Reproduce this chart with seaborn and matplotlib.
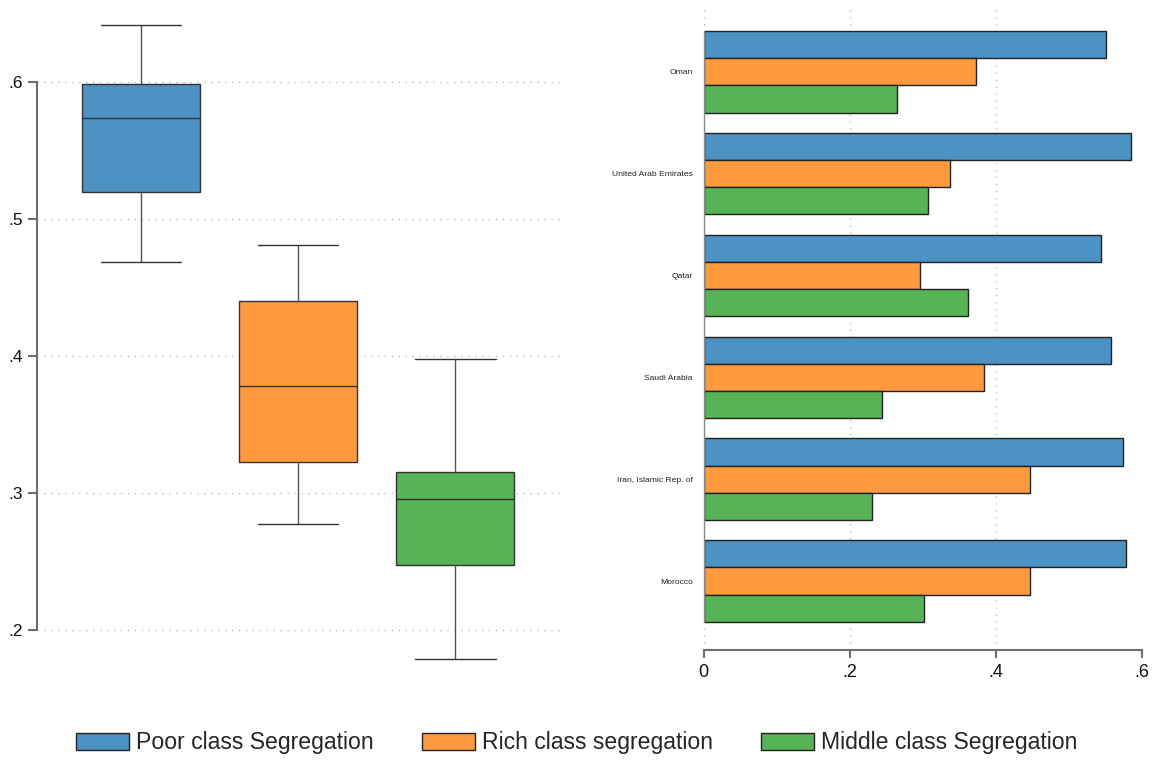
import numpy as np
import pandas as pd
import matplotlib
matplotlib.use("Agg")
import matplotlib.pyplot as plt
from matplotlib.patches import Patch
import seaborn as sns

# Series names and fill colours
series = ["Poor class Segregation", "Rich class segregation", "Middle class Segregation"]
colors = ["#4c92c3", "#ff993e", "#56b356"]

# Five-number summaries (min, Q1, median, Q3, max) for each segregation index
poor_box = [0.4686, 0.5197, 0.5737, 0.5985, 0.6416]
rich_box = [0.2774, 0.3226, 0.3780, 0.4400, 0.4810]
middle_box = [0.1788, 0.2474, 0.2956, 0.3153, 0.3978]

# Country-level segregation values
countries = ["Oman", "United Arab Emirates", "Qatar", "Saudi Arabia",
             "Iran, Islamic Rep. of", "Morocco"]
poor = [0.551, 0.584, 0.544, 0.557, 0.574, 0.578]
rich = [0.373, 0.337, 0.296, 0.383, 0.447, 0.446]
middle = [0.265, 0.307, 0.362, 0.244, 0.230, 0.302]

left_ticks = [0.2, 0.3, 0.4, 0.5, 0.6]
left_labels = [".2", ".3", ".4", ".5", ".6"]
bottom_ticks = [0.0, 0.2, 0.4, 0.6]
bottom_labels = ["0", ".2", ".4", ".6"]

sns.set_theme(style="white")
plt.rcParams["font.family"] = ["Liberation Sans", "DejaVu Sans"]

box_df = pd.DataFrame({
    "group": np.repeat(series, 5),
    "value": np.concatenate([poor_box, rich_box, middle_box]),
})
bar_df = pd.DataFrame({
    "country": countries * 3,
    "series": np.repeat(series, len(countries)),
    "value": poor + rich + middle,
})

W, H = 1156, 760
fig = plt.figure(figsize=(W / 100, H / 100), dpi=100)
ax1 = fig.add_axes([37 / W, 1 - 671 / H, 523 / W, 657.5 / H])
ax2 = fig.add_axes([703.5 / W, 1 - 650 / H, 438.8 / W, 645 / H])

grid_kw = dict(linestyle=(0, (1, 4)), color="#bdbdbd", linewidth=1.0)
axis_color = "#6e6e6e"

# Box plot of the three segregation indices
sns.boxplot(
    data=box_df, x="group", y="value", hue="group", palette=colors,
    saturation=1, width=0.75, whis=(0, 100), linecolor="#333333",
    linewidth=1.0, legend=False, ax=ax1,
    whiskerprops=dict(color="#555555"), capprops=dict(color="#333333"),
    capwidths=0.51,
)
ax1.set_xlim(-0.661, 2.665)
ax1.set_ylim(0.17, 0.65)
ax1.set_axisbelow(True)
ax1.yaxis.grid(True, **grid_kw)
ax1.xaxis.grid(False)
ax1.set_xticks([])
ax1.set_xlabel("")
ax1.set_ylabel("")
ax1.set_yticks(left_ticks)
ax1.set_yticklabels(left_labels)
for s in ["top", "right", "bottom"]:
    ax1.spines[s].set_visible(False)
ax1.spines["left"].set_bounds(0.2, 0.6)
ax1.spines["left"].set_color(axis_color)
ax1.spines["left"].set_linewidth(1.5)
ax1.tick_params(axis="y", left=True, length=6.5, width=1.5, color=axis_color,
                labelsize=12.5, pad=3.5, labelcolor="#111111")

# Grouped horizontal bars by country
sns.barplot(
    data=bar_df, y="country", x="value", hue="series", hue_order=series,
    order=countries, palette=colors, saturation=1, width=0.8, orient="h",
    errorbar=None, edgecolor="#222222", linewidth=1.0, legend=False, ax=ax2,
)
ax2.set_xlim(0, 0.6)
ax2.set_ylim(5.677, -0.657)
ax2.set_axisbelow(True)
ax2.xaxis.grid(True, **grid_kw)
ax2.yaxis.grid(False)
ax2.set_xticks(bottom_ticks)
ax2.set_xticklabels(bottom_labels)
ax2.set_xlabel("")
ax2.set_ylabel("")
for s in ["top", "right"]:
    ax2.spines[s].set_visible(False)
ax2.spines["bottom"].set_color(axis_color)
ax2.spines["bottom"].set_linewidth(1.5)
ax2.spines["left"].set_bounds(-0.4, 5.4)
ax2.spines["left"].set_color("#8a8a8a")
ax2.spines["left"].set_linewidth(1.0)
ax2.tick_params(axis="y", left=False, length=0, labelsize=6.1, pad=7.6,
                labelcolor="#222222")
ax2.tick_params(axis="x", bottom=True, length=5.8, width=1.5, color=axis_color,
                labelsize=13, pad=4, labelcolor="#111111")

handles = [Patch(facecolor=c, edgecolor="#222222", linewidth=1.0, label=s)
           for c, s in zip(colors, series)]
fig.legend(handles=handles, loc="center", bbox_to_anchor=(0.4987, 1 - 743 / H),
           ncol=3, frameon=False, fontsize=16.6, handlelength=2.3,
           handleheight=0.75, handletextpad=0.3, columnspacing=2.1)

fig.savefig("out.png", dpi=100)
